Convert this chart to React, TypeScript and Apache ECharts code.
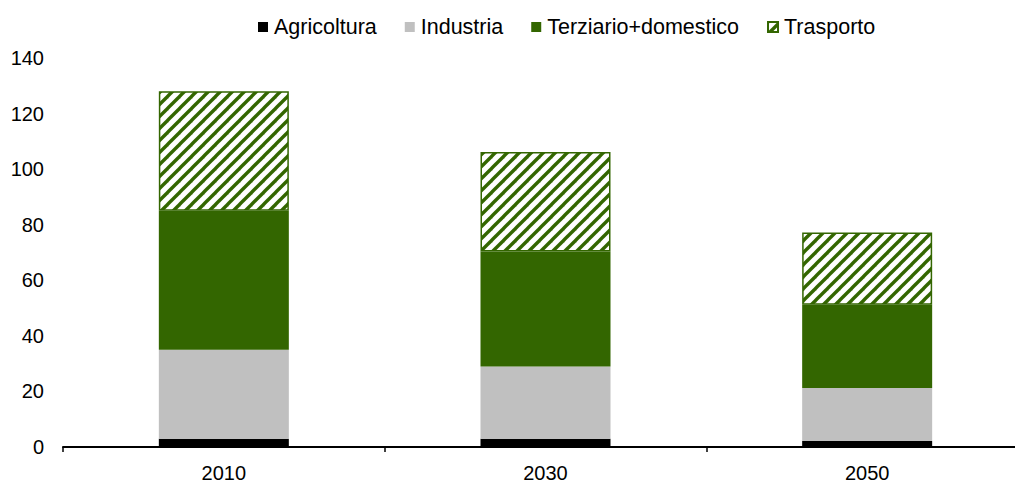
import React, { useEffect, useRef } from "react";
import * as echarts from "echarts";

const categories = ["2010", "2030", "2050"];
const agricoltura = [3, 3, 2.2];
const industria = [32, 26, 19];
const terziario = [50, 41.4, 30];
const trasporto = [43, 35.8, 26];
const yTicks = { min: 0, max: 140, interval: 20 };

const GREEN = "#336600";
const tile =
  "data:image/svg+xml;charset=utf-8," +
  encodeURIComponent(
    `<svg xmlns="http://www.w3.org/2000/svg" width="12" height="12"><rect width="12" height="12" fill="#ffffff"/><g stroke="${GREEN}" stroke-width="3.4" stroke-linecap="square"><line x1="0" y1="12" x2="12" y2="0"/><line x1="-6" y1="6" x2="6" y2="-6"/><line x1="6" y1="18" x2="18" y2="6"/></g></svg>`
  );

export default function App() {
  const ref = useRef<HTMLDivElement>(null);
  useEffect(() => {
    if (!ref.current) return;
    const chart = echarts.init(ref.current, null, { renderer: "svg" });
    const font = "'Liberation Sans', Arial, sans-serif";
    const pattern: any = { image: tile, repeat: "repeat" };
    chart.setOption({
      animation: false,
      textStyle: { fontFamily: font },
      legend: {
        top: 11,
        left: 253,
        icon: "rect",
        itemWidth: 10,
        itemHeight: 10,
        itemGap: 28,
        textStyle: { fontFamily: font, fontSize: 21.5, color: "#000", padding: [0, 0, 0, 1] },
        data: ["Agricoltura", "Industria", "Terziario+domestico", "Trasporto"],
      },
      grid: { left: 63, top: 58, right: 5, bottom: 35, containLabel: false },
      xAxis: {
        type: "category",
        data: categories,
        axisLine: { lineStyle: { color: "#000", width: 2 } },
        axisTick: { show: true, length: 5, lineStyle: { color: "#000", width: 1.5 } },
        axisLabel: { color: "#000", fontSize: 20, fontFamily: font, margin: 16 },
      },
      yAxis: {
        type: "value",
        min: yTicks.min,
        max: yTicks.max,
        interval: yTicks.interval,
        splitLine: { show: false },
        axisLine: { show: false },
        axisTick: { show: false },
        axisLabel: { color: "#000", fontSize: 20, fontFamily: font, margin: 19 },
      },
      series: [
        {
          name: "Agricoltura",
          type: "bar",
          stack: "s",
          barWidth: 130,
          data: agricoltura,
          itemStyle: { color: "#000000" },
        },
        {
          name: "Industria",
          type: "bar",
          stack: "s",
          data: industria,
          itemStyle: { color: "#C0C0C0" },
        },
        {
          name: "Terziario+domestico",
          type: "bar",
          stack: "s",
          data: terziario,
          itemStyle: { color: GREEN },
        },
        {
          name: "Trasporto",
          type: "bar",
          stack: "s",
          data: trasporto,
          itemStyle: { color: pattern, borderColor: GREEN, borderWidth: 1.5 },
        },
      ],
    });
    return () => chart.dispose();
  }, []);
  return (
    <div
      style={{
        position: "fixed",
        left: 0,
        top: 0,
        width: 1015,
        height: 483,
        overflow: "hidden",
        background: "#fff",
      }}
    >
      <div ref={ref} style={{ width: 1033, height: 483 }} />
    </div>
  );
}
